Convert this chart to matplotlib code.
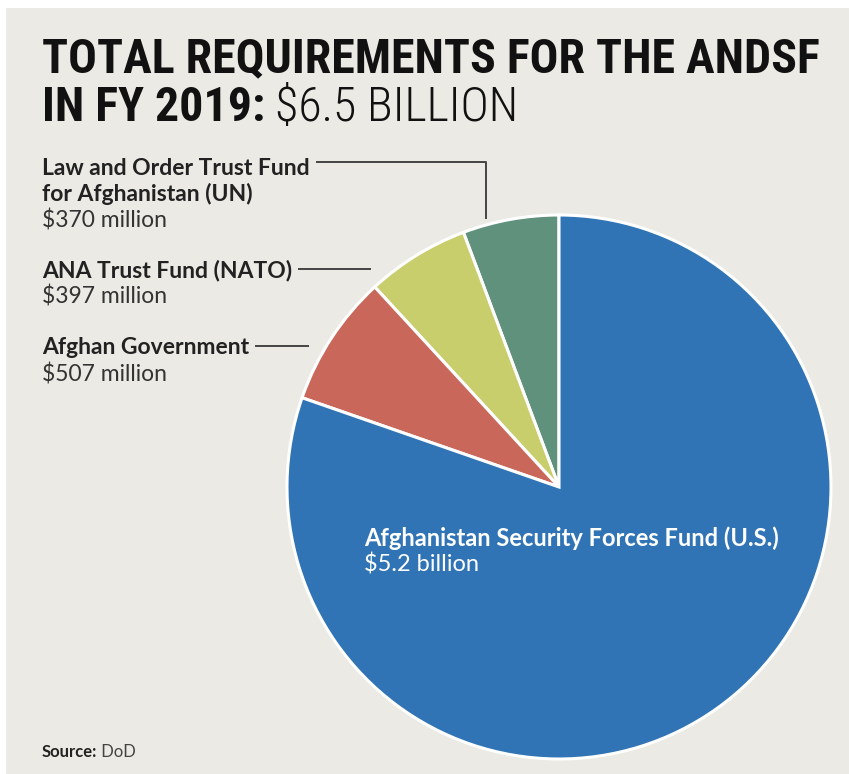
import numpy as np
import matplotlib.pyplot as plt
from matplotlib.patches import Rectangle

# data
names = [["Law and Order Trust Fund", "for Afghanistan (UN)"], ["ANA Trust Fund (NATO)"],
         ["Afghan Government"], ["Afghanistan Security Forces Fund (U.S.)"]]
values = [370, 397, 507, 5200]
amounts = ["$370 million", "$397 million", "$507 million", "$5.2 billion"]
colors = ["#5F917C", "#C8CE6C", "#C9675A", "#3074B5"]

W, H = 849, 774
fig = plt.figure(figsize=(W / 100, H / 100), dpi=100)
fig.patch.set_facecolor("white")
fig.add_artist(Rectangle((6 / W, 0), 1, 1 - 8 / H, transform=fig.transFigure,
                         facecolor="#EBEAE4", edgecolor="none", zorder=0))

FONT = "Lato"
TITLE = ["Roboto Condensed", "Liberation Sans Narrow", "Roboto"]

ax_t = fig.add_axes([0, 0, 1, 1], zorder=5)
ax_t.axis("off")

# title, sized to the reference width
t1 = fig.text(42 / W, 1 - 72 / H, "TOTAL REQUIREMENTS FOR THE ANDSF", fontsize=30,
              fontweight="bold", family=TITLE, color="#111111", va="baseline")
fig.canvas.draw()
tsize = 30 * 776 / t1.get_window_extent().width
t1.set_fontsize(tsize)
t2 = fig.text(42 / W, 1 - 121 / H, "IN FY 2019:", fontsize=tsize, fontweight="bold",
              family=TITLE, color="#111111", va="baseline")
ax_t.annotate("$6.5 BILLION", xy=(1, 0), xycoords=t2, xytext=(7, 0),
              textcoords="offset points", fontsize=tsize, family=TITLE,
              fontweight="light", color="#111111", va="bottom", annotation_clip=False)

# pie
cx, cy, r = 559, 487, 272
ax = fig.add_axes([(cx - r) / W, (H - cy - r) / H, 2 * r / W, 2 * r / H])
ax.pie(values, colors=colors, startangle=90, counterclock=True,
       wedgeprops=dict(edgecolor="white", linewidth=2.2))
ax.set_xlim(-1, 1)
ax.set_ylim(-1, 1)
ax.set_aspect("auto")
ax.axis("off")


def px(x, y):
    return (x - cx) / r, (cy - y) / r


# labels on the left
lab_y = [175, 277, 354]
amt_y = [227, 304, 381]
first = []
for i in range(3):
    for k, line in enumerate(names[i]):
        t = fig.text(42 / W, 1 - (lab_y[i] + 26 * k) / H, line, fontsize=16.5,
                     fontweight="bold", family=FONT, color="#222222", va="baseline")
        if k == 0:
            first.append(t)
    fig.text(42 / W, 1 - amt_y[i] / H, amounts[i], fontsize=16.5,
             family=FONT, color="#333333", va="baseline")

fig.canvas.draw()
starts = [(t.get_window_extent().x1 + 7 - cx) / r for t in first]

lc = "#444444"
# leader lines, stopping just short of the pie
y0 = px(0, 162)[1]
ex = px(486, 0)[0]
ax.plot([starts[0], ex, ex], [y0, y0, px(0, 218)[1]], color=lc, lw=1.4, clip_on=False)
for x0, ys in zip(starts[1:], [269, 346]):
    y0 = px(0, ys)[1]
    ex = -np.sqrt(1.06 ** 2 - y0 ** 2)
    ax.plot([x0, ex], [y0, y0], color=lc, lw=1.4, clip_on=False)

# big slice label
fig.text(364 / W, 1 - 546 / H, names[3][0], fontsize=17, fontweight="bold",
         family=FONT, color="white", va="baseline")
fig.text(364 / W, 1 - 572 / H, amounts[3], fontsize=17, family=FONT,
         color="white", va="baseline")

# source
src = fig.text(42 / W, 1 - 757 / H, "Source:", fontsize=12, fontweight="bold",
               family=FONT, color="#222222", va="baseline")
ax_t.annotate(" DoD", xy=(1, 0), xycoords=src, fontsize=12, family=FONT,
              color="#444444", va="bottom", annotation_clip=False)

fig.savefig("out.png", dpi=100, facecolor=fig.get_facecolor())
